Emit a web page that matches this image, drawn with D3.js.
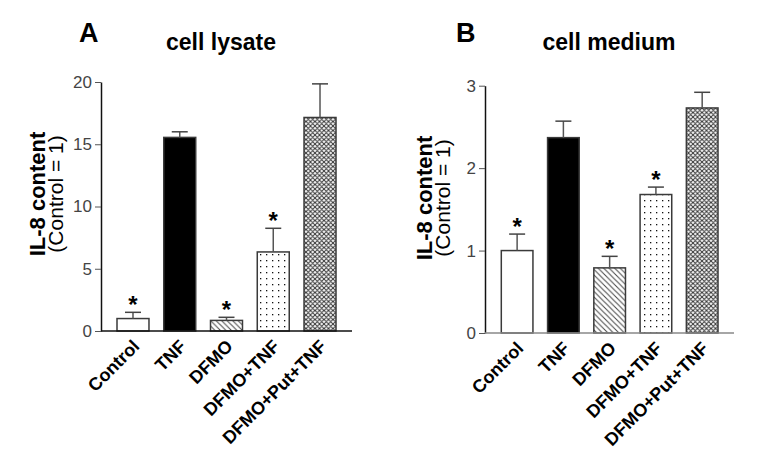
<!DOCTYPE html>
<html>
<head>
<meta charset="utf-8">
<script src="https://cdn.jsdelivr.net/npm/d3@7"></script>
<style>
  body { margin: 0; background: #fff; }
  text { font-family: "Liberation Sans", Arial, sans-serif; }
</style>
</head>
<body>
<div id="chart"></div>
<script>
const width = 766
const height = 461

// Datos
const groups = ["Control", "TNF", "DFMO", "DFMO+TNF", "DFMO+Put+TNF"]
const lysateMean = [1.0, 15.55, 0.85, 6.35, 17.15]
const lysateErr = [0.5, 0.45, 0.25, 1.9, 2.7]
const lysateStar = [true, false, true, true, false]
const mediumMean = [1.0, 2.37, 0.79, 1.68, 2.73]
const mediumErr = [0.2, 0.2, 0.14, 0.09, 0.19]
const mediumStar = [true, false, true, true, false]
const lysateTicks = [0, 5, 10, 15, 20]
const mediumTicks = [0, 1, 2, 3]
const fills = ["#fff", "#000", "url(#hatch)", "url(#dots)", "url(#cross)"]

const svg = d3.select("#chart")
  .append("svg")
  .attr("width", width)
  .attr("height", height)

// Patrones
const defs = svg.append("defs")
const hatch = defs.append("pattern").attr("id", "hatch")
  .attr("patternUnits", "userSpaceOnUse").attr("width", 5.5).attr("height", 5.5)
hatch.append("rect").attr("width", 5.5).attr("height", 5.5).attr("fill", "#fff")
hatch.append("path").attr("d", "M0,0L5.5,5.5M-1,4.5L1,6.5M4.5,-1L6.5,1")
  .attr("stroke", "#444").attr("stroke-width", 1)

const dots = defs.append("pattern").attr("id", "dots")
  .attr("patternUnits", "userSpaceOnUse").attr("width", 6).attr("height", 6)
dots.append("rect").attr("width", 6).attr("height", 6).attr("fill", "#fff")
dots.append("rect").attr("x", 2).attr("y", 2).attr("width", 1.3).attr("height", 1.3).attr("fill", "#111")

const cross = defs.append("pattern").attr("id", "cross")
  .attr("patternUnits", "userSpaceOnUse").attr("width", 4.5).attr("height", 4.5)
cross.append("rect").attr("width", 4.5).attr("height", 4.5).attr("fill", "#fff")
cross.append("path").attr("d", "M0,0L4.5,4.5M4.5,0L0,4.5M-1,3.5L1,5.5M3.5,-1L5.5,1M-1,1L1,-1M3.5,5.5L5.5,3.5")
  .attr("stroke", "#333").attr("stroke-width", 1)

function panel(opts) {
  const g = svg.append("g")

  const x = d3.scaleBand().domain(groups)
    .range(opts.xRange).paddingInner(0.316).paddingOuter(0)
  const y = d3.scaleLinear().domain(opts.domain).range(opts.yRange)

  // letra y titulo
  g.append("text").attr("x", opts.letterX).attr("y", 42)
    .attr("font-size", 27).attr("font-weight", "bold").text(opts.letter)
  g.append("text").attr("x", opts.titleX).attr("y", 50)
    .attr("text-anchor", "middle")
    .attr("font-size", 23).attr("font-weight", "bold").text(opts.title)

  // etiqueta eje y
  const yl = g.append("text")
    .attr("transform", `translate(${opts.labelX}, ${opts.labelY}) rotate(-90)`)
    .attr("text-anchor", "middle")
  yl.append("tspan").attr("x", 0).attr("y", 0)
    .attr("font-size", 22).attr("font-weight", "bold").text("IL-8 content")
  yl.append("tspan").attr("x", 0).attr("y", 18)
    .attr("font-size", 21).text("(Control = 1)")

  // eje y
  const yAxis = d3.axisLeft(y).tickValues(opts.ticks).tickFormat(d3.format("d"))
    .tickSize(6).tickSizeOuter(0).tickPadding(3)
  const yg = g.append("g").attr("transform", `translate(${opts.axisX},0)`).call(yAxis)
  yg.select(".domain").attr("stroke", "#111").attr("stroke-width", 1.5)
  yg.selectAll(".tick line").attr("stroke", "#555")
  yg.selectAll(".tick text").attr("font-size", 17).attr("fill", "#444")
    .attr("font-family", "Liberation Sans, Arial, sans-serif")

  // barras
  g.selectAll(".bar").data(groups).join("rect")
    .attr("x", d => x(d))
    .attr("y", (d, i) => y(opts.mean[i]))
    .attr("width", x.bandwidth())
    .attr("height", (d, i) => y(0) - y(opts.mean[i]))
    .attr("fill", (d, i) => fills[i])
    .attr("stroke", "#3a3a3a").attr("stroke-width", 1.5)

  // barras de error
  groups.forEach((d, i) => {
    const cx = x(d) + x.bandwidth() / 2
    const top = y(opts.mean[i] + opts.err[i])
    g.append("line").attr("x1", cx).attr("x2", cx)
      .attr("y1", y(opts.mean[i])).attr("y2", top)
      .attr("stroke", "#555").attr("stroke-width", 1.5)
    g.append("line").attr("x1", cx - 8).attr("x2", cx + 8)
      .attr("y1", top).attr("y2", top)
      .attr("stroke", "#444").attr("stroke-width", 1.5)
    if (opts.star[i]) {
      g.append("text").attr("x", cx).attr("y", top + 1)
        .attr("text-anchor", "middle").attr("font-size", 24).attr("font-weight", "bold")
        .text("*")
    }
    // etiquetas x
    g.append("text")
      .attr("transform", `translate(${cx + 3}, ${y(0) + 12}) rotate(-45)`)
      .attr("text-anchor", "end").attr("dy", "0.35em")
      .attr("font-size", 18).attr("font-weight", "bold").text(d)
  })

  // eje x
  g.append("line").attr("x1", opts.axisX).attr("x2", opts.xEnd)
    .attr("y1", y(0)).attr("y2", y(0))
    .attr("stroke", opts.xAxisColor).attr("stroke-width", 1.5)
}

panel({
  letter: "A", letterX: 79, title: "cell lysate", titleX: 221,
  labelX: 45, labelY: 194,
  axisX: 101, xEnd: 352, xRange: [117, 336],
  domain: [0, 20], yRange: [331, 82], ticks: lysateTicks,
  mean: lysateMean, err: lysateErr, star: lysateStar, xAxisColor: "#111"
})

panel({
  letter: "B", letterX: 456, title: "cell medium", titleX: 609,
  labelX: 432, labelY: 198,
  axisX: 485, xEnd: 734, xRange: [501.3, 718],
  domain: [0, 3], yRange: [333, 85.7], ticks: mediumTicks,
  mean: mediumMean, err: mediumErr, star: mediumStar, xAxisColor: "#888"
})
</script>
</body>
</html>
